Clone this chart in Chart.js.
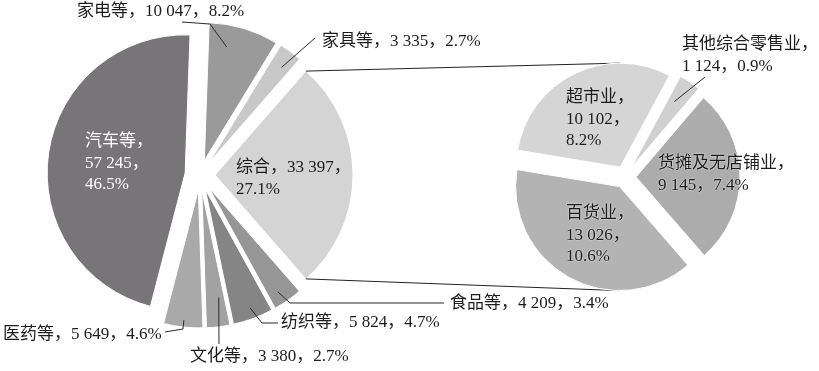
<!DOCTYPE html>
<html>
<head>
<meta charset="utf-8">
<script src="https://cdn.jsdelivr.net/npm/chart.js@4.4.1/dist/chart.umd.min.js"></script>
<style>
  html, body { margin: 0; padding: 0; background: #fff; }
  #wrap { position: relative; width: 819px; height: 371px; }
  #wrap canvas { position: absolute; left: 0; top: 0; }
</style>
</head>
<body>
<div id="wrap">
  <canvas id="main" width="819" height="371"></canvas>
  <canvas id="sub" width="819" height="371"></canvas>
</div>
<script>
// Retail sales by category (main pie)
const retailCategories = ['家电等', '家具等', '综合', '食品等', '纺织等', '文化等', '医药等', '汽车等'];
const retailValues = [10047, 3335, 33397, 4209, 5824, 3380, 5649, 57245];

// Breakdown of the "综合" slice (secondary pie)
const comprehensiveCategories = ['超市业', '其他综合零售业', '货摊及无店铺业', '百货业'];
const comprehensiveValues = [10102, 1124, 9145, 13026];

const grandTotal = retailValues.reduce((a, b) => a + b, 0);
const pct = v => (v / grandTotal * 100).toFixed(1);
const fmt = v => String(v).replace(/\B(?=(\d{3})+(?!\d))/g, ' ');

const FONT = '17px "Liberation Serif", "Noto Sans CJK SC", serif';
const TEXT = '#1c1c1c';
const LINE_H = 21.5;

const mainColors = ['#9a9a9a', '#c8c8c8', '#d4d4d4', '#969696', '#858585', '#a2a2a2', '#a9a9a9', '#777577'];
const subColors = ['#d5d5d5', '#d0d0d0', '#acacac', '#b3b3b3'];

// slice of the main pie that is broken out into the secondary pie
const splitIndex = retailCategories.indexOf('综合');

// turn the main pie so the split slice sits centred at 3 o'clock
function mainRotation() {
  let before = 0;
  for (let i = 0; i < splitIndex; i++) before += retailValues[i];
  const mid = (before + retailValues[splitIndex] / 2) / grandTotal * 360;
  return 90 - mid;
}

// label text, split over lines in different ways
function labelLines(name, v, split) {
  const n = name + '，', num = fmt(v), p = pct(v) + '%';
  switch (split) {
    case 'one': return [n + num + '，' + p];
    case 'nameNum|pct': return [n + num + '，', p];
    case 'name|numPct': return [n, num + '，' + p];
    default: return [n, num + '，', p];
  }
}

const mainLabelLayout = {
  '家电等': { x: 77, y: 12, split: 'one', leader: { t: 0.31, f: 0.84, path: [[210, 24], [182, 22]] } },
  '家具等': { x: 322, y: 42, split: 'one', leader: { t: 0.6, f: 0.87, path: [[315, 38]] } },
  '综合': { x: 236, y: 168, split: 'nameNum|pct' },
  '食品等': { x: 450, y: 304, split: 'one', leader: { t: 0.62, f: 0.91, path: [[290, 303], [444, 303]] } },
  '纺织等': { x: 281, y: 323, split: 'one', leader: { t: 0.48, f: 0.92, path: [[262, 323], [278, 323]] } },
  '文化等': { x: 190, y: 357, split: 'one', leader: { t: 0.29, f: 0.79, path: [[219, 344]] } },
  '医药等': { x: 3, y: 335, split: 'one', leader: { t: 0.5, f: 0.95, path: [[183, 329], [165, 332]] } },
  '汽车等': { x: 85, y: 142, split: 'name|num|pct', color: '#ffffff' }
};

const subLabelLayout = {
  '超市业': { x: 566, y: 98, split: 'name|num|pct' },
  '其他综合零售业': { x: 682, y: 45, split: 'name|numPct', leader: { t: 0.39, f: 0.76, path: [[705, 77]] } },
  '货摊及无店铺业': { x: 658, y: 164, split: 'name|numPct', glow: true },
  '百货业': { x: 566, y: 214, split: 'name|num|pct', glow: true }
};

// pull every slice outward along its own bisector
const explode = {
  id: 'explode',
  afterDatasetsUpdate(chart, args, opts) {
    const d = opts.distance || 0;
    chart.getDatasetMeta(0).data.forEach(arc => {
      const mid = (arc.startAngle + arc.endAngle) / 2;
      arc.x += Math.cos(mid) * d;
      arc.y += Math.sin(mid) * d;
    });
  }
};

function slicePoint(arc, t, f) {
  const a = arc.startAngle + t * (arc.endAngle - arc.startAngle);
  const r = f * arc.outerRadius;
  return [arc.x + Math.cos(a) * r, arc.y + Math.sin(a) * r];
}

function drawLabels(chart, names, values, layout) {
  const ctx = chart.ctx;
  const arcs = chart.getDatasetMeta(0).data;
  ctx.save();
  names.forEach((name, i) => {
    const L = layout[name];
    if (!L) return;
    if (L.leader) {
      const p0 = slicePoint(arcs[i], L.leader.t, L.leader.f);
      ctx.beginPath();
      ctx.moveTo(p0[0], p0[1]);
      L.leader.path.forEach(p => ctx.lineTo(p[0], p[1]));
      ctx.strokeStyle = '#2a2a2a';
      ctx.lineWidth = 1;
      ctx.stroke();
    }
    ctx.font = FONT;
    ctx.textAlign = 'left';
    ctx.textBaseline = 'middle';
    ctx.fillStyle = L.color || TEXT;
    if (L.glow) {
      ctx.shadowColor = 'rgba(255,255,255,0.95)';
      ctx.shadowBlur = 2;
    } else {
      ctx.shadowBlur = 0;
      ctx.shadowColor = 'transparent';
    }
    labelLines(name, values[i], L.split).forEach((s, k) => {
      ctx.fillText(s, L.x, L.y + k * LINE_H);
    });
  });
  ctx.restore();
}

const mainChart = new Chart(document.getElementById('main'), {
  type: 'pie',
  data: {
    labels: retailCategories,
    datasets: [{
      data: retailValues,
      backgroundColor: mainColors,
      borderColor: '#ffffff',
      borderWidth: 1,
      offset: 0,
      hoverOffset: 0
    }]
  },
  options: {
    responsive: false,
    devicePixelRatio: 1,
    animation: false,
    events: [],
    rotation: mainRotation(),
    radius: 138,
    layout: { padding: { left: 0, top: 0, right: 419, bottom: 21 } },
    plugins: {
      legend: { display: false },
      tooltip: { enabled: false },
      explode: { distance: 15 }
    }
  },
  plugins: [explode, {
    id: 'mainLabels',
    afterDatasetsDraw(chart) { drawLabels(chart, retailCategories, retailValues, mainLabelLayout); }
  }]
});

// lines joining the split slice to the secondary pie
const connector = {
  id: 'connector',
  beforeDatasetsDraw(chart) {
    const src = mainChart.getDatasetMeta(0).data[splitIndex];
    const arcs = chart.getDatasetMeta(0).data;
    const TAU = Math.PI * 2;
    const at = ang => arcs.find(a => {
      let x = ang;
      while (x < a.startAngle) x += TAU;
      while (x >= a.startAngle + TAU) x -= TAU;
      return x <= a.endAngle;
    });
    const top = at(-Math.PI / 2), bottom = at(Math.PI / 2);
    const R = src.outerRadius;
    const ctx = chart.ctx;
    ctx.save();
    ctx.strokeStyle = '#222';
    ctx.lineWidth = 1;
    ctx.beginPath();
    ctx.moveTo(src.x + Math.cos(src.startAngle) * R, src.y + Math.sin(src.startAngle) * R);
    ctx.lineTo(top.x, top.y - top.outerRadius);
    ctx.moveTo(src.x + Math.cos(src.endAngle) * R, src.y + Math.sin(src.endAngle) * R);
    ctx.lineTo(bottom.x, bottom.y + bottom.outerRadius);
    ctx.stroke();
    ctx.restore();
  }
};

const subChart = new Chart(document.getElementById('sub'), {
  type: 'pie',
  data: {
    labels: comprehensiveCategories,
    datasets: [{
      data: comprehensiveValues,
      backgroundColor: subColors,
      borderColor: '#ffffff',
      borderWidth: 1,
      offset: 0,
      hoverOffset: 0
    }]
  },
  options: {
    responsive: false,
    devicePixelRatio: 1,
    animation: false,
    events: [],
    rotation: -80.6,
    radius: 104,
    layout: { padding: { left: 500, top: 50, right: 69, bottom: 67 } },
    plugins: {
      legend: { display: false },
      tooltip: { enabled: false },
      explode: { distance: 11 }
    }
  },
  plugins: [explode, connector, {
    id: 'subLabels',
    afterDatasetsDraw(chart) { drawLabels(chart, comprehensiveCategories, comprehensiveValues, subLabelLayout); }
  }]
});
</script>
</body>
</html>
